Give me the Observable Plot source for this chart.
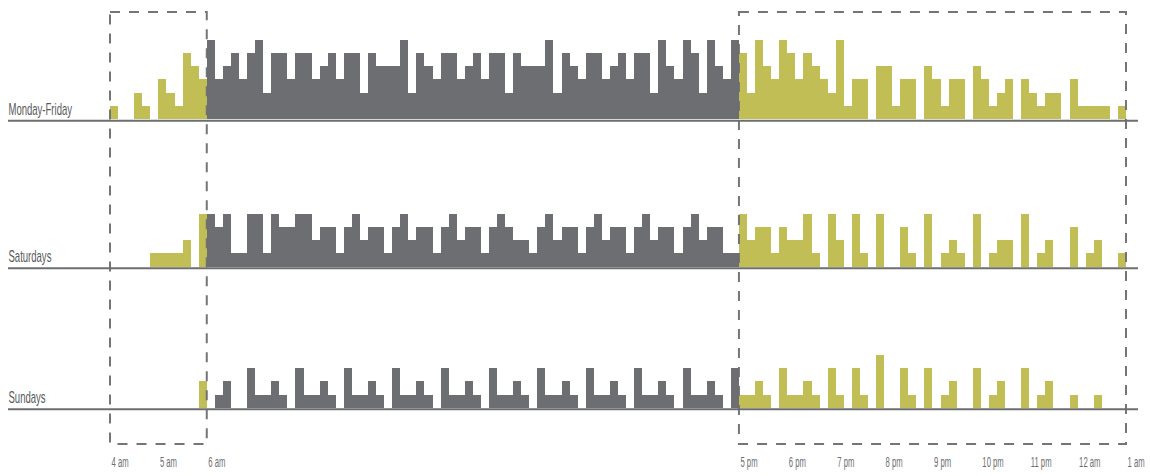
<!DOCTYPE html>
<html><head><meta charset="utf-8">
<script src="https://cdn.jsdelivr.net/npm/d3@7"></script>
<script src="https://cdn.jsdelivr.net/npm/@observablehq/plot@0.6"></script>
<style>body{margin:0;background:#fff;}</style>
</head><body><div id="chart"></div>
<script>
// departures per 10-minute slot, starting 4:00 am, ending 1:00 am
const slotMinutes = 10;
const mondayFriday = [
1,0,0,2,1,0,3,2,1,5,4,3,
6,3,4,5,3,5,6,2,5,5,3,5,
5,3,4,5,3,5,5,2,5,4,4,4,
6,2,5,4,3,5,5,3,4,5,3,5,
5,2,5,4,4,4,6,2,5,4,3,5,
5,3,4,5,3,5,5,2,6,4,3,6,
5,2,6,4,3,6,5,2,6,4,3,6,
5,3,5,4,3,2,6,1,3,3,0,4,
4,1,3,3,0,4,3,1,3,3,0,4,
3,1,2,3,0,3,2,1,2,2,0,3,
1,1,1,1,0,1];
const saturdays = [
0,0,0,0,0,1,1,1,1,2,0,4,
4,3,4,1,1,4,4,1,4,3,3,4,
4,2,3,3,1,3,4,2,3,3,1,3,
4,2,3,3,1,3,4,2,3,3,1,3,
4,3,2,2,1,3,4,2,3,3,1,3,
4,2,3,3,1,3,4,2,3,3,1,3,
4,2,3,3,1,1,4,2,3,3,1,3,
2,2,4,1,0,4,2,0,4,1,0,4,
0,0,3,1,0,4,0,1,2,1,0,4,
0,1,2,2,0,4,0,1,2,0,0,3,
0,1,2,0,0,1];
const sundays = [
0,0,0,0,0,0,0,0,0,0,0,2,
0,1,2,0,0,3,1,1,2,1,0,3,
1,1,2,1,0,3,1,1,2,1,0,3,
1,1,2,1,0,3,1,1,2,1,0,3,
1,1,2,1,0,3,1,1,2,1,0,3,
1,1,2,1,0,3,1,1,2,1,0,3,
1,1,2,1,0,3,1,1,2,1,0,3,
1,1,2,1,0,3,1,0,3,1,0,4,
0,0,3,1,0,3,0,1,2,0,0,3,
0,1,2,0,0,3,0,1,2,0,0,1,
0,0,1,0,0,0];
const rowLabels = ["Monday-Friday", "Saturdays", "Sundays"];
// hours counted from 4 am
const tickHours = [0, 1, 2, 13, 14, 15, 16, 17, 18, 19, 20, 21];
const tickLabels = ["4 am","5 am","6 am","5 pm","6 pm","7 pm","8 pm","9 pm","10 pm","11 pm","12 am","1 am"];
const offPeakWindows = [[0, 2], [13, 21]]; // hours from 4 am

// ---- layout / style (not data) ----
const GRAY = "#6d6e71", YELLOW = "#c1be56";
const rowBase = {"Monday-Friday": 24.41, "Saturdays": 13.33, "Sundays": 2.72};
const series = [mondayFriday, saturdays, sundays];

const inWindow = m => offPeakWindows.some(([a, b]) => m >= a * 60 && m < b * 60);
const slots = [];
series.forEach((vals, r) => vals.forEach((v, i) => {
  if (v > 0) slots.push({row: rowLabels[r], t0: i * slotMinutes, t1: (i + 1) * slotMinutes, count: v, offPeak: inWindow(i * slotMinutes)});
}));
const labelByMinute = new Map(tickHours.map((h, i) => [h * 60, tickLabels[i]]));
const font = "'Liberation Sans Narrow', 'Liberation Sans', sans-serif";

const rectOpts = {
  x1: "t0", x2: "t1",
  y1: d => rowBase[d.row], y2: d => rowBase[d.row] + d.count,
  shapeRendering: "crispEdges"
};

const chart = Plot.plot({
  width: 1150, height: 476,
  marginTop: 12, marginBottom: 32, marginLeft: 8, marginRight: 12,
  x: {domain: [0, 1260], range: [110, 1126]},
  y: {domain: [0, 32.48], range: [444, 12], axis: null},
  style: {fontFamily: font, background: "#fff"},
  marks: [
    Plot.rect(slots.filter(d => !d.offPeak), {...rectOpts, fill: GRAY}),
    Plot.rect(slots.filter(d => d.offPeak), {...rectOpts, fill: YELLOW}),
    Plot.ruleY(rowLabels, {y: d => rowBase[d], stroke: GRAY, strokeWidth: 2, dy: 1}),
    Plot.text(rowLabels, {y: d => rowBase[d], text: d => d, frameAnchor: "left", textAnchor: "start",
      lineAnchor: "bottom", dy: -5, fontSize: 17, fill: "#58595b", fontFamily: font, className: "rowlabel"}),
    Plot.rect(offPeakWindows, {x1: d => d[0] * 60, x2: d => d[1] * 60, fill: "none",
      stroke: GRAY, strokeWidth: 2, strokeDasharray: "10 9", strokeOpacity: 0.95}),
    Plot.axisX({ticks: tickHours.map(h => h * 60), tickFormat: d => labelByMinute.get(d),
      tickSize: 0, tickPadding: 13, textAnchor: "start", fontSize: 14, fill: GRAY, dx: 1,
      fontFamily: font, className: "ticklabel"})
  ]
});
document.getElementById("chart").appendChild(chart);

// condensed lettering, like the original's narrow typeface
function condense(selector, factor) {
  chart.querySelectorAll(selector).forEach(t => {
    const w = t.getComputedTextLength();
    t.setAttribute("textLength", (w * factor).toFixed(1));
    t.setAttribute("lengthAdjust", "spacingAndGlyphs");
  });
}
condense(".rowlabel text", 0.56);
condense(".ticklabel text", 0.55);
</script>
</body></html>
